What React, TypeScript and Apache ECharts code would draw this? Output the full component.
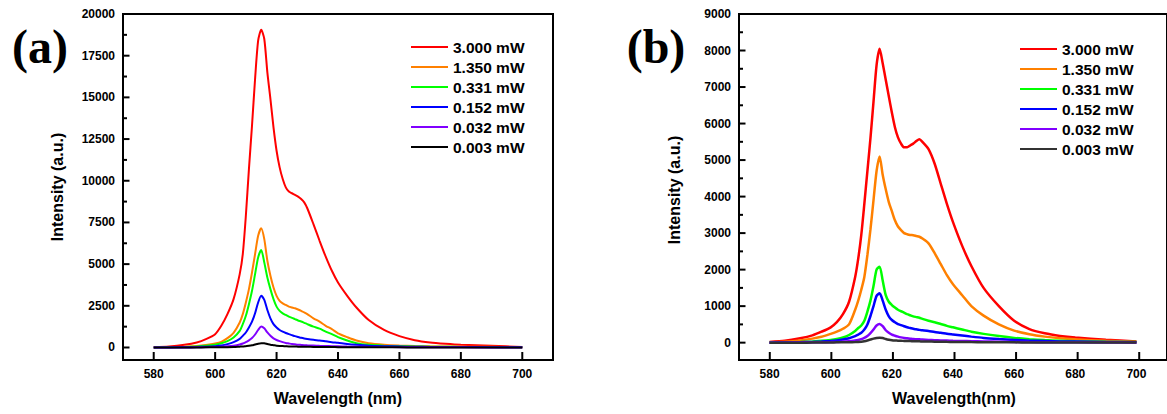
import React, { useEffect, useRef } from "react";
import * as echarts from "echarts";

// ---------- data ----------
const WAVELENGTHS = [
  580, 585, 590, 594, 597, 600, 602, 604, 606, 608, 609, 610, 611, 612, 613, 614,
  615, 616, 617, 618, 619, 620, 621, 622, 623, 624, 625, 626, 627, 628, 629, 630,
  632, 634, 636, 638, 640, 643, 646, 650, 655, 660, 665, 670, 675, 680, 690, 700,
];

const SERIES_NAMES = ["3.000 mW", "1.350 mW", "0.331 mW", "0.152 mW", "0.032 mW", "0.003 mW"];

// Panel (a)
const A_3000 = [
  20, 60, 160, 300, 500, 800, 1300, 2000, 2900, 4400, 5600, 7900, 10700, 13300, 16100, 18400,
  19050, 18500, 16500, 14900, 13200, 11800, 10800, 10100, 9600, 9350, 9250, 9150, 9050, 8900, 8700, 8350,
  7400, 6400, 5450, 4600, 3900, 3100, 2400, 1650, 1050, 680, 440, 300, 220, 160, 100, 30,
];
const A_1350 = [
  10, 20, 50, 90, 150, 240, 340, 560, 880, 1500, 2000, 2700, 3500, 4500, 5600, 6700,
  7150, 6500, 5200, 4300, 3600, 3100, 2800, 2650, 2550, 2450, 2400, 2350, 2280, 2200, 2100, 2000,
  1750, 1550, 1300, 1100, 850, 620, 420, 260, 170, 120, 90, 70, 60, 50, 40, 20,
];
const A_0331 = [
  5, 15, 30, 60, 100, 170, 250, 380, 600, 1000, 1400, 1900, 2600, 3400, 4400, 5400,
  5850, 5100, 4200, 3500, 2900, 2450, 2200, 2050, 1950, 1850, 1780, 1700, 1620, 1560, 1480, 1400,
  1250, 1130, 950, 800, 620, 420, 260, 160, 110, 80, 60, 50, 40, 35, 25, 15,
];
const A_0152 = [
  0, 5, 15, 30, 50, 80, 120, 200, 320, 520, 700, 900, 1200, 1550, 2050, 2700,
  3100, 2850, 2250, 1750, 1400, 1200, 1050, 950, 870, 800, 740, 680, 630, 580, 540, 510,
  460, 420, 370, 320, 280, 210, 160, 110, 80, 60, 45, 35, 30, 25, 20, 10,
];
const A_0032 = [
  0, 0, 5, 10, 20, 30, 45, 70, 110, 180, 240, 320, 430, 570, 780, 1050,
  1260, 1150, 900, 700, 550, 450, 380, 320, 270, 240, 210, 190, 170, 155, 140, 130,
  115, 100, 90, 80, 70, 55, 45, 35, 25, 20, 15, 12, 10, 8, 5, 0,
];
const A_0003 = [
  0, 0, 3, 5, 8, 10, 15, 20, 30, 50, 60, 80, 100, 130, 180, 230,
  260, 250, 210, 170, 140, 110, 95, 85, 75, 65, 60, 55, 50, 45, 42, 40,
  35, 30, 28, 25, 22, 18, 15, 12, 10, 8, 6, 5, 4, 3, 2, 0,
];

// Panel (b)
const B_3000 = [
  20, 50, 120, 200, 300, 420, 560, 780, 1120, 1800, 2300, 2950, 3800, 4700, 5600, 6600,
  7600, 8050, 7650, 7200, 6750, 6300, 5900, 5620, 5450, 5350, 5350, 5400, 5450, 5520, 5570, 5500,
  5300, 4900, 4350, 3800, 3300, 2650, 2100, 1500, 1000, 600, 370, 255, 185, 140, 80, 30,
];
const B_1350 = [
  10, 25, 60, 110, 160, 240, 300, 380, 500, 900, 1150, 1450, 1800, 2400, 3100, 3900,
  4700, 5100, 4600, 4200, 3850, 3600, 3350, 3180, 3080, 3000, 2970, 2950, 2940, 2920, 2900, 2850,
  2720, 2450, 2150, 1850, 1600, 1300, 1000, 740, 500, 330, 230, 165, 120, 90, 50, 20,
];
const B_0331 = [
  5, 10, 20, 35, 50, 75, 100, 140, 210, 320, 400, 470, 600, 850, 1150, 1550,
  2000, 2080, 1700, 1300, 1120, 1030, 960, 900, 860, 820, 780, 750, 720, 700, 680, 650,
  600, 560, 510, 460, 420, 360, 300, 240, 180, 130, 95, 70, 55, 40, 25, 15,
];
const B_0152 = [
  0, 5, 10, 20, 30, 45, 60, 85, 120, 180, 220, 270, 360, 500, 730, 1000,
  1280, 1350, 1150, 900, 720, 620, 560, 510, 480, 450, 420, 400, 380, 365, 350, 340,
  320, 290, 270, 245, 225, 195, 165, 130, 100, 75, 55, 45, 35, 30, 20, 10,
];
const B_0032 = [
  0, 0, 5, 8, 12, 15, 20, 30, 40, 60, 75, 95, 130, 180, 260, 360,
  470, 510, 450, 340, 270, 220, 190, 165, 145, 130, 120, 110, 100, 95, 90, 85,
  75, 68, 62, 56, 50, 45, 40, 32, 25, 20, 15, 12, 10, 8, 5, 0,
];
const B_0003 = [
  0, 0, 0, 2, 4, 6, 8, 9, 10, 15, 20, 27, 40, 60, 85, 110,
  130, 137, 125, 100, 80, 65, 58, 55, 50, 48, 45, 42, 40, 38, 36, 34,
  30, 27, 25, 22, 20, 18, 15, 12, 10, 8, 6, 5, 5, 4, 3, 2,
];

const X_TICKS = [580, 600, 620, 640, 660, 680, 700];
const A_Y_TICKS = [0, 2500, 5000, 7500, 10000, 12500, 15000, 17500, 20000];
const A_Y_MINOR = [1250, 3750, 6250, 8750, 11250, 13750, 16250, 18750];
const B_Y_TICKS = [0, 1000, 2000, 3000, 4000, 5000, 6000, 7000, 8000, 9000];
const B_Y_MINOR = [500, 1500, 2500, 3500, 4500, 5500, 6500, 7500, 8500];

const X_RANGE = [570, 710];
const A_Y_RANGE = [-750, 20000];
const B_Y_RANGE = [-475, 9000];

const COLORS_A = ["#ff0000", "#ff8000", "#00ff00", "#0000ff", "#8000ff", "#000000"];
const COLORS_B = ["#ff0000", "#ff8000", "#00ff00", "#0000ff", "#8000ff", "#333333"];

const A_DATA = [A_3000, A_1350, A_0331, A_0152, A_0032, A_0003];
const B_DATA = [B_3000, B_1350, B_0331, B_0152, B_0032, B_0003];

// ---------- chart ----------
const SANS = "'Liberation Sans', Arial, Helvetica, sans-serif";
const SERIF = "'Liberation Serif', 'Times New Roman', serif";

const GRIDS = [
  { left: 123, top: 14, width: 430, height: 346 },
  { left: 739, top: 14, width: 431, height: 346 },
];

const plain = (v: number) => String(v);

function xAxisFor(gridIndex: number) {
  return {
    type: "value",
    gridIndex,
    min: X_RANGE[0],
    max: X_RANGE[1],
    axisLine: { show: true, onZero: false, lineStyle: { color: "#000", width: 2 } },
    splitLine: { show: false },
    axisTick: { show: false },
    axisLabel: {
      customValues: X_TICKS,
      formatter: plain,
      color: "#000",
      fontFamily: SANS,
      fontWeight: "bold",
      fontSize: 12,
      margin: 8,
    },
  };
}

function yAxisFor(gridIndex: number, range: number[], ticks: number[]) {
  return {
    type: "value",
    gridIndex,
    min: range[0],
    max: range[1],
    position: "left",
    axisLine: { show: true, onZero: false, lineStyle: { color: "#000", width: 2 } },
    splitLine: { show: false },
    axisTick: { show: false },
    axisLabel: {
      customValues: ticks,
      formatter: plain,
      color: "#000",
      fontFamily: SANS,
      fontWeight: "bold",
      fontSize: 12,
      margin: 8,
    },
  };
}

function legendGraphics(x0: number, y0: number, colors: string[]) {
  const els: any[] = [];
  SERIES_NAMES.forEach((name, i) => {
    const y = y0 + i * 20;
    els.push({
      type: "line",
      shape: { x1: x0, y1: y, x2: x0 + 37, y2: y },
      style: { stroke: colors[i], lineWidth: 2 },
    });
    els.push({
      type: "text",
      x: x0 + 42,
      y,
      style: {
        text: name,
        fill: "#000",
        font: `bold 15.5px ${SANS}`,
        textAlign: "left",
        textVerticalAlign: "middle",
      },
    });
  });
  return els;
}

function textEl(text: string, x: number, y: number, font: string, rotation = 0) {
  return {
    type: "text",
    x,
    y,
    rotation,
    style: { text, fill: "#000", font, textAlign: "center", textVerticalAlign: "middle" },
  };
}

// Inward tick marks for one panel, drawn as thin rectangles along the panel's axis ranges
function tickGraphics(gi: number, yRange: number[], major: number[], minor: number[]) {
  const g = GRIDS[gi];
  const px = (x: number) => g.left + ((x - X_RANGE[0]) / (X_RANGE[1] - X_RANGE[0])) * g.width;
  const py = (y: number) => g.top + g.height - ((y - yRange[0]) / (yRange[1] - yRange[0])) * g.height;
  const bottom = g.top + g.height;
  const left = g.left;
  const els: any[] = [];
  const st = { fill: "#000" };
  X_TICKS.forEach((v) => {
    const x = px(v);
    els.push({ type: "rect", z: 100, shape: { x: x - 1, y: bottom - 8, width: 2, height: 8 }, style: st });
  });
  major.forEach((v) => {
    const y = py(v);
    els.push({ type: "rect", z: 100, shape: { x: left, y: y - 1, width: 6.5, height: 2 }, style: st });
  });
  minor.forEach((v) => {
    const y = py(v);
    els.push({ type: "rect", z: 100, shape: { x: left, y: y - 1, width: 4, height: 2 }, style: st });
  });
  return els;
}

export default function App() {
  const ref = useRef<HTMLDivElement>(null);

  useEffect(() => {
    if (!ref.current) return;
    const chart = echarts.init(ref.current, undefined, { renderer: "svg" });

    const series: any[] = [];
    A_DATA.forEach((vals, i) => {
      series.push({
        type: "line",
        name: SERIES_NAMES[i],
        xAxisIndex: 0,
        yAxisIndex: 0,
        data: WAVELENGTHS.map((w, k) => [w, vals[k]]),
        showSymbol: false,
        smooth: 0.25,
        lineStyle: { color: COLORS_A[i], width: 2 },
        itemStyle: { color: COLORS_A[i] },
      });
    });
    B_DATA.forEach((vals, i) => {
      series.push({
        type: "line",
        name: SERIES_NAMES[i],
        xAxisIndex: 1,
        yAxisIndex: 1,
        data: WAVELENGTHS.map((w, k) => [w, vals[k]]),
        showSymbol: false,
        smooth: 0.25,
        lineStyle: { color: COLORS_B[i], width: 2.5 },
        itemStyle: { color: COLORS_B[i] },
      });
    });

    const graphic: any[] = [
      ...tickGraphics(0, A_Y_RANGE, A_Y_TICKS, A_Y_MINOR),
      ...tickGraphics(1, B_Y_RANGE, B_Y_TICKS, B_Y_MINOR),
      textEl("(a)", 40, 46, `bold 48px ${SERIF}`),
      textEl("(b)", 656, 46, `bold 48px ${SERIF}`),
      textEl("Intensity (a.u.)", 57, 187, `bold 16px ${SANS}`, Math.PI / 2),
      textEl("Intensity (a.u.)", 674, 190, `bold 16px ${SANS}`, Math.PI / 2),
      textEl("Wavelength (nm)", 338, 398, `bold 16px ${SANS}`),
      textEl("Wavelength(nm)", 954, 398, `bold 16px ${SANS}`),
      ...legendGraphics(411, 47, COLORS_A),
      ...legendGraphics(1020, 49, COLORS_B),
    ];

    chart.setOption({
      animation: false,
      backgroundColor: "#ffffff",
      grid: GRIDS.map((g) => ({ ...g, show: true, borderColor: "#000", borderWidth: 2, backgroundColor: "transparent" })),
      xAxis: [xAxisFor(0), xAxisFor(1)],
      yAxis: [yAxisFor(0, A_Y_RANGE, A_Y_TICKS), yAxisFor(1, B_Y_RANGE, B_Y_TICKS)],
      series,
      graphic: { elements: graphic },
    });

    return () => chart.dispose();
  }, []);

  return (
    <div
      ref={ref}
      style={{ position: "absolute", left: 0, top: 0, width: 1167, height: 414 }}
    />
  );
}
